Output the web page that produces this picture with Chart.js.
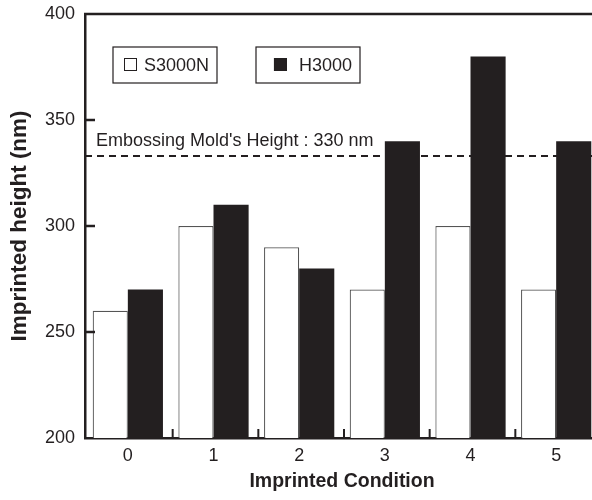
<!DOCTYPE html>
<html>
<head>
<meta charset="utf-8">
<script src="https://cdn.jsdelivr.net/npm/chart.js@4.4.1/dist/chart.umd.min.js"></script>
<style>
    html, body { margin: 0; padding: 0; background: #fff; overflow: hidden; }
    #wrap { width: 600px; height: 500px; }
</style>
</head>
<body>
<div id="wrap"><canvas id="chart"></canvas></div>
<script>
// values
const conditions = ['0', '1', '2', '3', '4', '5'];
const s3000n = [260, 300, 290, 270, 300, 270];
const h3000 = [270, 310, 280, 340, 380, 340];
const yTicks = [200, 250, 300, 350, 400];
const moldHeight = 333;
const moldLabel = "Embossing Mold's Height : 330 nm";

const ink = '#231f20';
const font = "'Liberation Sans', Arial, Helvetica, sans-serif";

// frame, inner ticks, dashed mold line and boxed legend
const decorations = {
    id: 'decorations',
    beforeDatasetsDraw(chart) {
        const { ctx, chartArea: a, scales: { y } } = chart;
        const yy = y.getPixelForValue(moldHeight);
        ctx.save();
        ctx.strokeStyle = ink;
        ctx.lineWidth = 2;
        ctx.setLineDash([7, 5]);
        ctx.beginPath();
        ctx.moveTo(a.left, yy);
        ctx.lineTo(a.right, yy);
        ctx.stroke();
        ctx.setLineDash([]);
        ctx.fillStyle = ink;
        ctx.font = '18px ' + font;
        ctx.textBaseline = 'alphabetic';
        ctx.fillText(moldLabel, a.left + 11, yy - 10);
        ctx.restore();
    },
    afterDatasetsDraw(chart) {
        const { ctx, chartArea: a, scales: { x, y } } = chart;
        ctx.save();
        ctx.strokeStyle = ink;
        ctx.lineWidth = 2.5;
        // top frame
        ctx.beginPath();
        ctx.moveTo(a.left - 1, a.top);
        ctx.lineTo(a.right, a.top);
        ctx.stroke();
        // y inner ticks
        yTicks.slice(1, -1).forEach(v => {
            const py = y.getPixelForValue(v);
            ctx.beginPath();
            ctx.moveTo(a.left, py);
            ctx.lineTo(a.left + 10, py);
            ctx.stroke();
        });
        // x inner ticks between conditions
        ctx.lineWidth = 2;
        for (let i = 0; i < conditions.length - 1; i++) {
            const px = (x.getPixelForValue(i) + x.getPixelForValue(i + 1)) / 2 + 2;
            ctx.beginPath();
            ctx.moveTo(px, a.bottom);
            ctx.lineTo(px, a.bottom - 9);
            ctx.stroke();
        }
        // legend boxes
        ctx.font = '18px ' + font;
        ctx.textBaseline = 'middle';
        const top = a.top + 33, h = 36, w = 104;
        let lx = a.left + 28;
        chart.data.datasets.forEach(ds => {
            const tw = ctx.measureText(ds.label).width;
            const tx = lx + w - 8 - tw;
            const sx = Math.max(lx + 11, tx - 25);
            ctx.lineWidth = 1.2;
            ctx.strokeStyle = ink;
            ctx.strokeRect(lx, top, w, h);
            ctx.fillStyle = ds.backgroundColor;
            ctx.fillRect(sx, top + 11, 13, 13);
            ctx.lineWidth = 1;
            ctx.strokeRect(sx + 0.5, top + 11.5, 12, 12);
            ctx.fillStyle = ink;
            ctx.fillText(ds.label, tx, top + h / 2 + 1);
            lx += w + 39;
        });
        ctx.restore();
    }
};

new Chart(document.getElementById('chart'), {
    type: 'bar',
    data: {
        labels: conditions,
        datasets: [
            {
                label: 'S3000N',
                data: s3000n,
                backgroundColor: '#ffffff',
                borderColor: '#555',
                borderWidth: 1.2
            },
            {
                label: 'H3000',
                data: h3000,
                backgroundColor: ink,
                borderWidth: 0
            }
        ]
    },
    options: {
        responsive: true,
        maintainAspectRatio: false,
        animation: false,
        layout: { padding: { top: 14, right: 1, left: 0, bottom: 0 } },
        plugins: {
            legend: { display: false },
            tooltip: { enabled: false }
        },
        datasets: {
            bar: { categoryPercentage: 0.82, barPercentage: 1.0 }
        },
        scales: {
            x: {
                grid: { display: false, drawTicks: false },
                border: { display: true, color: ink, width: 2.5 },
                ticks: { color: ink, font: { family: font, size: 18 }, padding: 7 },
                title: {
                    display: true,
                    text: 'Imprinted Condition',
                    color: ink,
                    font: { family: font, size: 19.5, weight: 'bold' },
                    padding: { top: 2, bottom: 7 }
                },
                afterFit: s => { s.height = 62; }
            },
            y: {
                min: 200,
                max: 400,
                afterBuildTicks: s => { s.ticks = yTicks.map(v => ({ value: v })); },
                grid: { display: false, drawTicks: false },
                border: { display: true, color: ink, width: 2.5 },
                ticks: { color: ink, font: { family: font, size: 18 }, padding: 10 },
                title: {
                    display: true,
                    text: 'Imprinted height (nm)',
                    color: ink,
                    font: { family: font, size: 22.5, weight: 'bold' },
                    padding: { top: 6, bottom: 0 }
                },
                afterFit: s => { s.width = 85; s.paddingTop = 0; s.paddingBottom = 0; }
            }
        }
    },
    plugins: [decorations]
});
</script>
</body>
</html>
